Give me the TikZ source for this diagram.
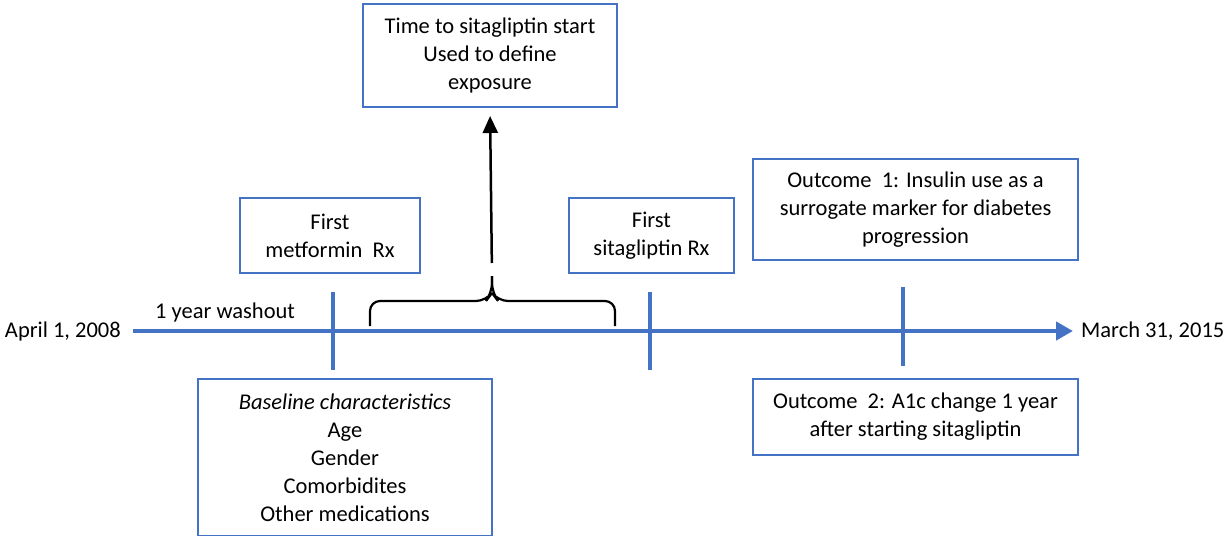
\documentclass[tikz,border=0pt]{standalone}
\usepackage{fontspec}
\setmainfont{Carlito}
\usetikzlibrary{arrows.meta}
\definecolor{tlblue}{HTML}{4472C4}
\tikzset{
  box/.style={draw=tlblue, line width=2pt, fill=white, align=center, inner sep=0pt,
    font=\fontsize{22.5}{28}\selectfont},
  lbl/.style={inner sep=0pt, font=\fontsize{22.5}{28}\selectfont},
  tick/.style={draw=tlblue, line width=4pt},
  axis/.style={draw=tlblue, line width=4.5pt, -{Triangle[width=18pt,length=17pt]}},
  bracestyle/.style={draw=black, line width=2.2pt, rounded corners=10pt},
  uparrow/.style={draw=black, line width=2.5pt, -{Triangle[width=15pt,length=17pt]}}
}
\begin{document}
\begin{tikzpicture}[x=1pt,y=-1pt]
\useasboundingbox (0,0) rectangle (1225,535);
% timeline
\coordinate (t0) at (133,331);
\coordinate (t1) at (1073,331);
\draw[axis] (t0) -- (t1);
\node[lbl, anchor=east] (start) at (121,331) {April 1, 2008};
\node[lbl, anchor=west] (end) at (1081,331) {March 31, 2015};
\node[lbl, anchor=base west] (wash) at (155,318) {1 year washout};
% ticks
\coordinate (k1a) at (333,292); \coordinate (k1b) at (333,370);
\coordinate (k2a) at (650,292); \coordinate (k2b) at (650,370);
\coordinate (k3a) at (903,287); \coordinate (k3b) at (903,366);
\draw[tick] (k1a) -- (k1b);
\draw[tick] (k2a) -- (k2b);
\draw[tick] (k3a) -- (k3b);
% brace
\coordinate (bl) at (370,326);
\coordinate (br) at (615,326);
\coordinate (btip) at (492,276);
\draw[bracestyle] (bl) -- (370,301) -- (486,301) -- (492,293) -- (btip);
\draw[bracestyle] (br) -- (615,301) -- (498,301) -- (492,293) -- (btip);
% boxes
\node[box, minimum width=254pt, minimum height=103pt] (top) at (490,55.5)
  {Time to sitagliptin start\\Used to define\\exposure};
\node[box, minimum width=180pt, minimum height=75pt] (met) at (330,235.5)
  {First\\metformin\ \ Rx};
\node[box, minimum width=165pt, minimum height=75pt] (sit) at (651.5,235.5)
  {First\\sitagliptin Rx};
\node[box, minimum width=325pt, minimum height=101pt] (out1) at (915.5,209.5)
  {Outcome\ \ 1: Insulin use as a\\surrogate marker for diabetes\\progression};
\node[box, minimum width=294pt, minimum height=157pt] (base) at (345,457.5)
  {\textit{Baseline characteristics}\\Age\\Gender\\Comorbidites\\Other medications};
\node[box, minimum width=325pt, minimum height=76pt] (out2) at (915.5,417)
  {Outcome\ \ 2: A1c change 1 year\\after starting sitagliptin};
% arrow from brace to top box
\draw[uparrow, shorten <=13pt, shorten >=8pt] (btip) -- (top.south);
\end{tikzpicture}
\end{document}
